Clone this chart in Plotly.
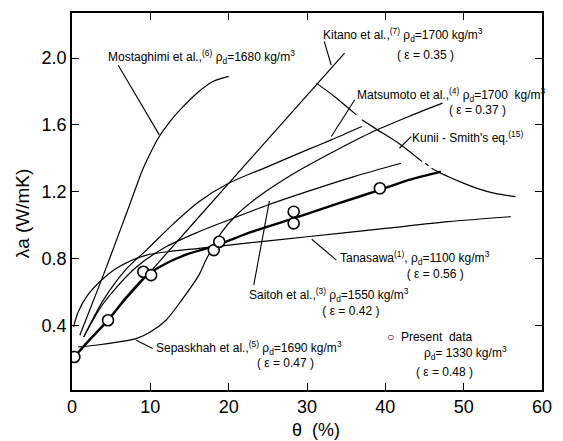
import plotly.graph_objects as go

# ---------------- data ----------------
mostaghimi_x = [1.0, 2.5, 4.0, 6.0, 7.5, 9.0, 10.0, 11.0, 12.5, 14.0, 16.2, 18.0, 20.0]
mostaghimi_y = [0.34, 0.52, 0.70, 0.95, 1.14, 1.33, 1.43, 1.52, 1.62, 1.70, 1.80, 1.86, 1.89]

kitano_x = [2.0, 10.0, 20.0, 34.8]
kitano_y = [0.30, 0.72, 1.25, 2.03]

matsumoto_x = [1.5, 4.0, 7.0, 9.5, 13.0, 16.2, 20.0, 25.0, 30.0, 33.1, 37.0]
matsumoto_y = [0.33, 0.55, 0.74, 0.85, 1.01, 1.14, 1.25, 1.35, 1.45, 1.51, 1.59]

saitoh_x = [1.5, 4.0, 8.0, 12.0, 16.2, 20.0, 25.0, 30.0, 36.0, 42.0]
saitoh_y = [0.33, 0.53, 0.74, 0.87, 0.96, 1.03, 1.12, 1.20, 1.29, 1.37]

sepaskhah_x = [0.8, 3.0, 6.0, 8.2, 10.0, 12.0, 14.0, 16.2, 17.1, 19.0, 21.0, 23.8, 28.0, 33.0, 38.0, 43.0, 47.3]
sepaskhah_y = [0.27, 0.28, 0.30, 0.32, 0.36, 0.43, 0.55, 0.70, 0.79, 0.95, 1.06, 1.17, 1.30, 1.43, 1.55, 1.65, 1.73]

tanasawa_x = [0.2, 0.8, 2.0, 4.0, 6.0, 9.5, 13.0, 16.2, 22.0, 30.0, 40.0, 48.0, 56.0]
tanasawa_y = [0.39, 0.48, 0.58, 0.68, 0.75, 0.82, 0.845, 0.86, 0.89, 0.93, 0.98, 1.02, 1.05]

kunii_x = [31.2, 33.5, 36.3, None, 37.0, 39.0, 42.0, 44.7, None, 45.1, 45.5, None, 45.9, 47.1, 49.5, 51.7, 54.0, 56.6]
kunii_y = [1.85, 1.77, 1.66, None, 1.63, 1.57, 1.48, 1.38, None, 1.37, 1.355, None, 1.34, 1.31, 1.26, 1.22, 1.19, 1.17]

present_line_x = [0.3, 2.0, 4.6, 7.0, 9.6, 12.0, 15.0, 18.5, 23.0, 28.3, 34.0, 39.3, 43.0, 47.1]
present_line_y = [0.21, 0.30, 0.43, 0.57, 0.70, 0.77, 0.83, 0.88, 0.96, 1.04, 1.13, 1.21, 1.27, 1.32]

present_pts_x = [0.3, 4.6, 9.1, 10.1, 18.1, 18.8, 28.3, 28.3, 39.3]
present_pts_y = [0.21, 0.43, 0.72, 0.70, 0.85, 0.90, 1.01, 1.08, 1.22]

x_ticks = [0, 10, 20, 30, 40, 50, 60]
y_ticks = [0.4, 0.8, 1.2, 1.6, 2.0]

# ---------------- figure ----------------
fig = go.Figure()
thin = dict(color="black", width=1.2, shape="spline", smoothing=0.8)
for xs, ys in [(mostaghimi_x, mostaghimi_y), (kitano_x, kitano_y), (matsumoto_x, matsumoto_y),
               (saitoh_x, saitoh_y), (sepaskhah_x, sepaskhah_y), (tanasawa_x, tanasawa_y),
               (kunii_x, kunii_y)]:
    fig.add_trace(go.Scatter(x=xs, y=ys, mode="lines", line=thin, connectgaps=False,
                             hoverinfo="skip", showlegend=False))

fig.add_trace(go.Scatter(x=present_line_x, y=present_line_y, mode="lines",
                         line=dict(color="black", width=2.4, shape="spline", smoothing=0.8),
                         showlegend=False))
fig.add_trace(go.Scatter(x=present_pts_x, y=present_pts_y, mode="markers",
                         marker=dict(symbol="circle", size=11, color="white",
                                     line=dict(color="black", width=1.6)),
                         showlegend=False))

# leader lines
leaders = [
    (5.9, 1.957, 11.15, 1.54),   # Mostaghimi
    (32.2, 2.10, 33.1, 1.957),   # Kitano
    (36.1, 1.75, 33.1, 1.53),    # Matsumoto
    (43.3, 1.53, 41.8, 1.46),    # Kunii-Smith
    (30.6, 0.915, 33.75, 0.79),  # Tanasawa
    (23.2, 0.64, 25.2, 1.145),   # Saitoh
    (8.2, 0.31, 10.3, 0.26),     # Sepaskhah
]
for x0, y0, x1, y1 in leaders:
    fig.add_shape(type="line", x0=x0, y0=y0, x1=x1, y1=y1, xref="x", yref="y",
                  line=dict(color="black", width=1.1))

FONT = "Liberation Sans"
ann_font = dict(family=FONT, size=12, color="black")


def pad(n):
    return "&nbsp;" * n


labels = [
    (4.3, 2.006, "Mostaghimi et al.,<sup>(6)</sup> ρ<sub>d</sub>=1680 kg/m<sup>3</sup>"),
    (31.8, 2.137, "Kitano et al.,<sup>(7)</sup> ρ<sub>d</sub>=1700 kg/m<sup>3</sup>"),
    (41.2, 2.018, "( ε = 0.35 )"),
    (36.1, 1.78, "Matsumoto et al.,<sup>(4)</sup> ρ<sub>d</sub>=1700  kg/m<sup>3</sup>"),
    (47.9, 1.69, "( ε = 0.37 )"),
    (43.2, 1.53, "Kunii - Smith's eq.<sup>(15)</sup>"),
    (34.0, 0.762, "Tanasawa<sup>(1)</sup>, ρ<sub>d</sub>=1100 kg/m<sup>3</sup><br>"
                  + pad(20) + "( ε = 0.56 )"),
    (22.3, 0.542, "Saitoh et al.,<sup>(3)</sup> ρ<sub>d</sub>=1550 kg/m<sup>3</sup><br>"
                  + pad(22) + "( ε = 0.42 )"),
    (10.5, 0.263, "Sepaskhah et al.,<sup>(5)</sup> ρ<sub>d</sub>=1690 kg/m<sup>3</sup>"),
    (23.4, 0.174, "( ε = 0.47 )"),
    (40.0, 0.328, "○  Present  data"),
    (44.7, 0.233, "ρ<sub>d</sub>= 1330 kg/m<sup>3</sup>"),
    (43.7, 0.122, "( ε = 0.48 )"),
]
for x, y, t in labels:
    fig.add_annotation(x=x, y=y, xref="x", yref="y", text=t, showarrow=False,
                       xanchor="left", yanchor="middle", align="left", font=ann_font)

# axis titles
fig.add_annotation(x=0.52, y=-0.105, xref="paper", yref="paper", text="θ  (%)",
                   showarrow=False, font=dict(family=FONT, size=18, color="black"),
                   xanchor="center", yanchor="middle")
fig.add_annotation(x=-0.106, y=0.469, xref="paper", yref="paper", text="λa (W/mK)",
                   textangle=-90, showarrow=False,
                   font=dict(family=FONT, size=19, color="black"),
                   xanchor="center", yanchor="middle")

axis_common = dict(showline=True, linecolor="black", linewidth=1.5, mirror="ticks",
                   ticks="inside", ticklen=7, tickwidth=1.3, tickcolor="black",
                   showgrid=False, zeroline=False,
                   tickfont=dict(family=FONT, size=18, color="black"))
fig.update_xaxes(range=[0, 60], tickvals=x_ticks, **axis_common)
fig.update_yaxes(range=[0.012, 2.27], tickvals=y_ticks, tickformat=".1f", **axis_common)

fig.update_layout(width=563, height=441, margin=dict(l=72, r=17, t=11, b=51),
                  plot_bgcolor="white", paper_bgcolor="white", showlegend=False)

fig.write_html("out.html")
